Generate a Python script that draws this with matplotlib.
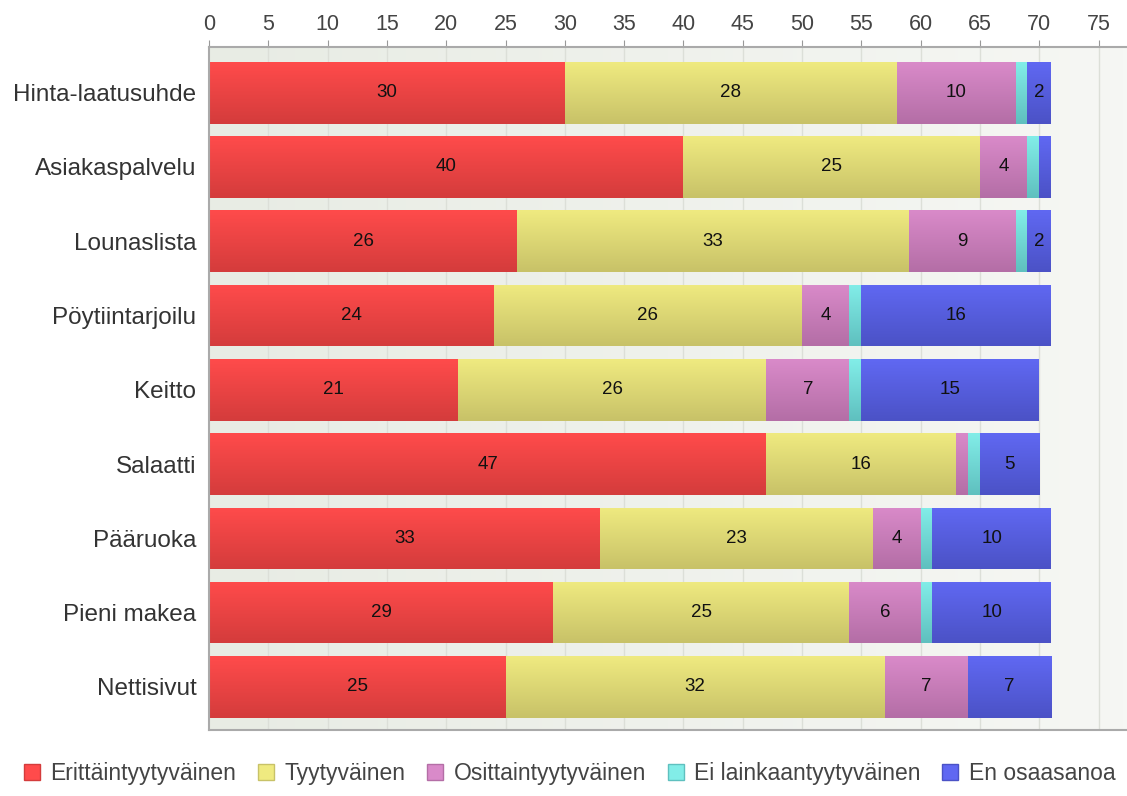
import numpy as np
import matplotlib.pyplot as plt
from matplotlib.colors import LinearSegmentedColormap
from matplotlib.patches import Rectangle
from matplotlib.lines import Line2D

plt.rcParams['font.family'] = ['Liberation Sans', 'DejaVu Sans']

categories = ["Hinta-laatusuhde", "Asiakaspalvelu", "Lounaslista", "Pöytiintarjoilu",
              "Keitto", "Salaatti", "Pääruoka", "Pieni makea", "Nettisivut"]
series_names = ["Erittäintyytyväinen", "Tyytyväinen", "Osittaintyytyväinen",
                "Ei lainkaantyytyväinen", "En osaasanoa"]

erittain = [30, 40, 26, 24, 21, 47, 33, 29, 25]
tyytyvainen = [28, 25, 33, 26, 26, 16, 23, 25, 32]
osittain = [10, 4, 9, 4, 7, 1, 4, 6, 7]
ei_lainkaan = [1, 1, 1, 1, 1, 1, 1, 1, 0]
en_osaa = [2, 1, 2, 16, 15, 5, 10, 10, 7]

series = [erittain, tyytyvainen, osittain, ei_lainkaan, en_osaa]
xticks = list(range(0, 80, 5))

# (top colour, bottom colour) for each series, bars get a vertical gradient
shades = [("#ff4b4b", "#d43c3c"),
          ("#efea80", "#c8c268"),
          ("#d98ac9", "#b46ea6"),
          ("#82ede8", "#5fc0bf"),
          ("#6068f2", "#4b52c6")]

fig = plt.figure(figsize=(11.27, 7.96), dpi=100)
ax = fig.add_axes([209 / 1127, 66 / 796, 1 - 209 / 1127, (730 - 47) / 796])

ax.set_xlim(0, 77.4)
ax.set_ylim(8.58, -0.615)

# plot background: soft left-to-right gradient
bg = LinearSegmentedColormap.from_list("bg", ["#e8ece4", "#f6f7f4"])
ax.imshow(np.linspace(0, 1, 256).reshape(1, -1), cmap=bg, aspect="auto",
          extent=[0, 77.4, 8.58, -0.615], zorder=0)

for x in xticks[1:]:
    ax.axvline(x, color="#dcdfd8", lw=1, zorder=1)

grad = np.linspace(0, 1, 64).reshape(-1, 1)
ypos = np.arange(len(categories))
height = 0.83
left = np.zeros(len(categories))
for vals, (top, bottom) in zip(series, shades):
    cmap = LinearSegmentedColormap.from_list("c", [top, bottom])
    for i, v in enumerate(vals):
        if v <= 0:
            continue
        y0 = ypos[i] - height / 2
        rect = Rectangle((left[i], y0), v, height, facecolor="none",
                         edgecolor="none", zorder=2)
        ax.add_patch(rect)
        im = ax.imshow(grad, cmap=cmap, aspect="auto", zorder=2,
                       extent=[left[i], left[i] + v, y0 + height, y0])
        im.set_clip_path(rect)
        if v >= 2:
            ax.text(left[i] + v / 2, ypos[i], str(v), ha="center", va="center",
                    fontsize=13.5, color="#111111", zorder=3)
    left += np.array(vals)

ax.set_yticks(ypos)
ax.set_yticklabels(categories, fontsize=17.5, color="#333333")
ax.set_xticks(xticks)
ax.set_xticklabels([str(t) for t in xticks], fontsize=15.5, color="#444444")
ax.xaxis.tick_top()
ax.tick_params(axis="x", direction="out", length=5, color="#999999", pad=4)
ax.tick_params(axis="y", length=0, pad=9)

ax.spines["right"].set_visible(False)
for side in ["top", "bottom", "left"]:
    ax.spines[side].set_color("#aaaaaa")
    ax.spines[side].set_linewidth(1.5)

handles = [Line2D([0], [0], marker="s", linestyle="none", markersize=11,
                  markerfacecolor=c[0], markeredgecolor=c[1])
           for c in shades]
fig.legend(handles, series_names, loc="lower center", bbox_to_anchor=(0.505, -0.012),
           ncol=5, frameon=False, fontsize=16.5, handlelength=0.8,
           handletextpad=0.4, columnspacing=0.9, labelcolor="#444444")

fig.savefig("out.png", dpi=100)
